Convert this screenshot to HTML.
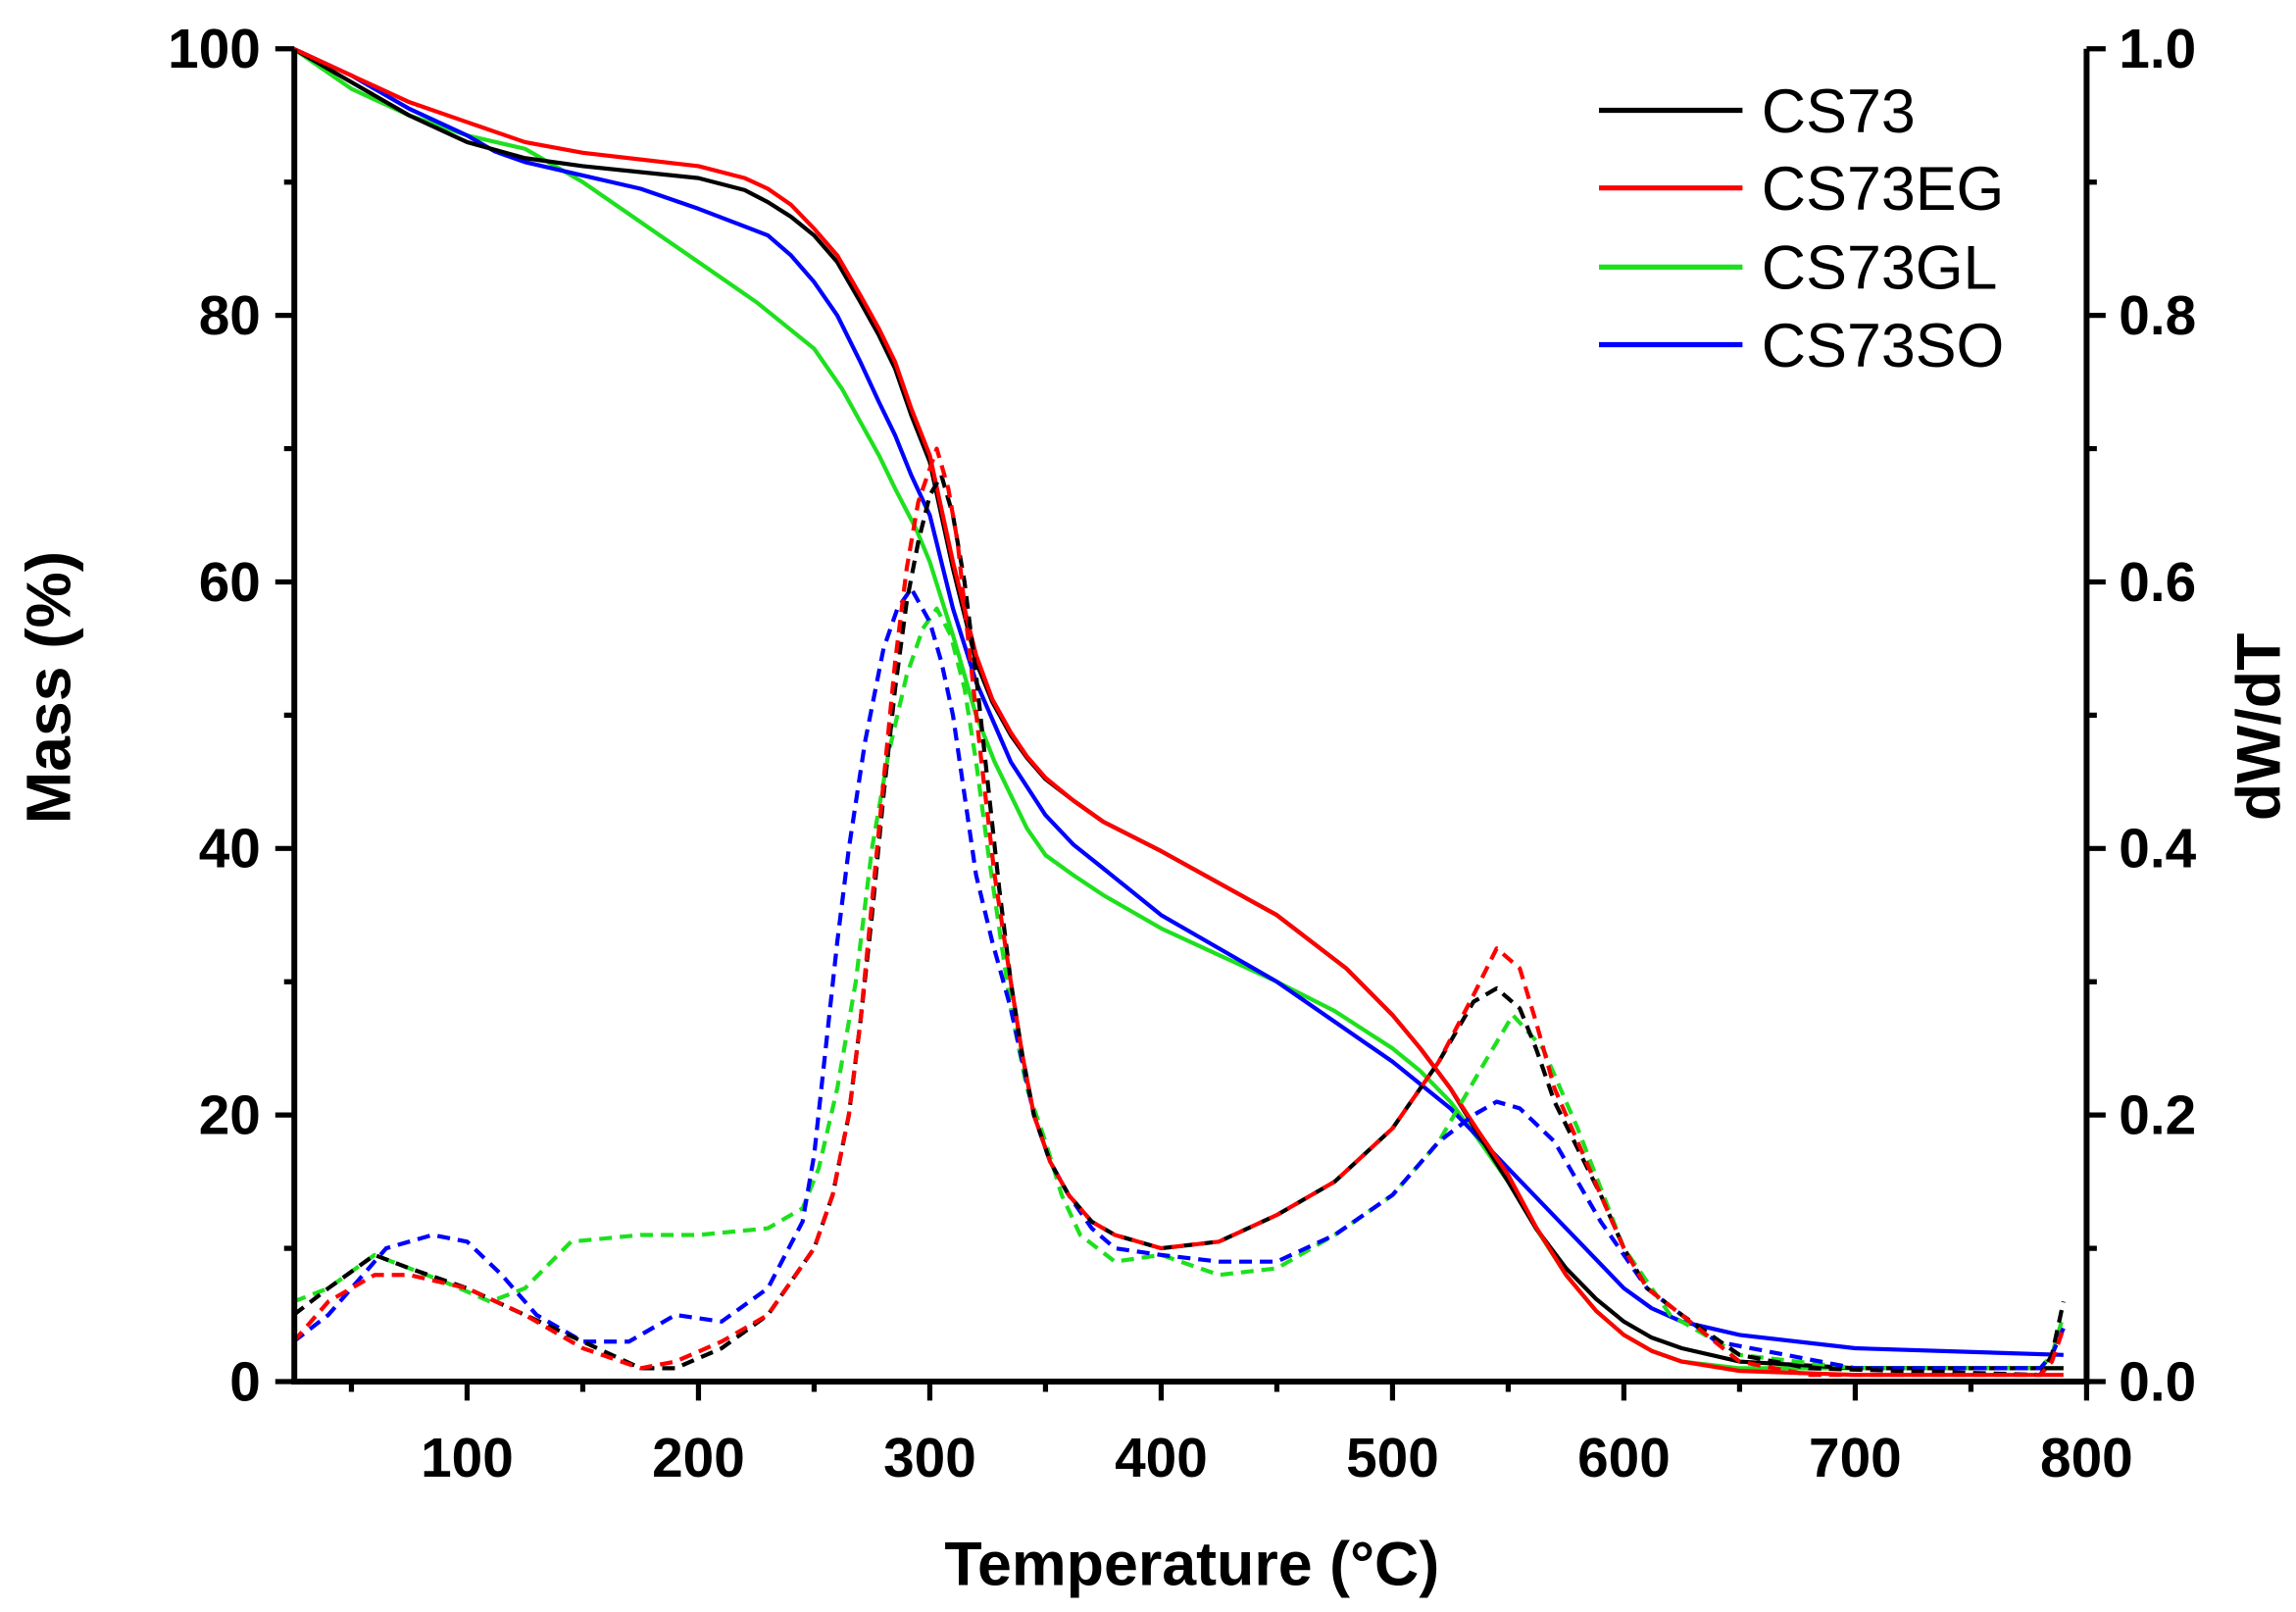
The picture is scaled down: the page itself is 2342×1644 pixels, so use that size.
<!DOCTYPE html>
<html><head><meta charset="utf-8"><style>
html,body{margin:0;padding:0;background:#fff;}
svg{display:block;}
text{font-family:"Liberation Sans",Arial,sans-serif;}
</style></head><body>
<svg width="2342" height="1644" viewBox="0 0 1568 1100" xmlns="http://www.w3.org/2000/svg">
<rect width="1568" height="1100" fill="#fff"/>
<g transform="matrix(1.58,0,0,-9.1,161,943)" fill="none" stroke-width="4.2" stroke-linejoin="round">
<polyline vector-effect="non-scaling-stroke" stroke="#1ee01e" points="25,100 50,97 75,95 100,93.5 125,92.5 150,90 175,87 200,84 225,81 250,77.5 262,74.5 270,72 278,69.5 285,67 294,64 300,61.5 310,56 320,50 328,46.5 335,44 342,41.5 350,39.5 362,38 375,36.5 400,34 425,32 450,30 475,27.8 500,25 512,23.3 525,21 537,18.2 550,15 562,11.5 575,8 588,5.3 600,3.5 612,2.3 625,1.5 650,1 790,1"/>
<polyline vector-effect="non-scaling-stroke" stroke="#00f" points="25,100 50,98 75,95.5 100,93.5 112,92.3 125,91.5 150,90.5 175,89.5 200,88 230,86 240,84.5 250,82.5 260,80 270,76.5 278,73.5 285,71 292,68 300,65 310,58 320,52.5 335,46.5 350,42.5 362,40.3 375,38.5 400,35 450,30 500,24 525,20.5 550,16 575,11.5 600,7 612,5.5 625,4.5 650,3.5 700,2.5 790,2"/>
<polyline vector-effect="non-scaling-stroke" stroke="#000" points="25,100 50,97.5 75,95 100,93 125,91.8 150,91.2 200,90.3 220,89.4 230,88.5 240,87.4 250,86 260,84 270,81 278,78.5 285,76 292,72.5 300,69 310,61 320,54 327,51 335,48.5 342,46.8 350,45.2 362,43.6 375,42 400,39.8 450,35 480,31 500,27.5 512,25 525,22 537,18.6 550,15 562,11.5 575,8.5 588,6.2 600,4.5 612,3.3 625,2.5 650,1.5 700,1 790,1"/>
<polyline vector-effect="non-scaling-stroke" stroke="#f00" points="25,100 50,98 75,96 100,94.5 125,93 150,92.2 200,91.2 220,90.3 230,89.5 240,88.3 250,86.5 260,84.5 270,81.5 278,79 285,76.5 292,73 300,69.5 310,61.5 320,54.5 327,51.2 335,48.7 342,46.9 350,45.3 362,43.6 375,42 400,39.8 450,35 480,31 500,27.5 512,25 525,22 537,18.8 550,15.5 562,11.6 575,8 588,5.3 600,3.5 612,2.3 625,1.5 650,0.8 700,0.5 790,0.5"/>
<polyline vector-effect="non-scaling-stroke" stroke="#1ee01e" stroke-dasharray="13 8" points="25,6 40,7 60,9.5 75,8.5 90,7.5 110,6 125,7 145,10.5 175,11 200,11 230,11.5 245,13 252,16 260,22 268,30 275,40 282,47 290,53 297,56.5 303,58 309,56 315,52 320,46.5 325,40 330,34 335,28 342,22 350,18 357,14 365,11 380,9 400,9.5 425,8 450,8.5 475,11 500,14 520,18 540,24 552,27.5 565,25 580,19 600,10 620,5 650,2 700,1 780,1 785,2 790,5"/>
<polyline vector-effect="non-scaling-stroke" stroke="#00f" stroke-dasharray="13 8" points="25,3 40,5 65,10 85,11 100,10.5 115,8 130,5 150,3 170,3 190,5 210,4.5 230,7 245,12 250,17 255,25 260,33 265,40 272,48 280,55 286,58 292,59.5 300,57 305,54 310,50 315,44 320,38 327,33 335,28 345,20 352,16.5 360,14 370,11.5 380,10 400,9.5 425,9 450,9 475,11 500,14 520,18 535,20 545,21 555,20.5 570,18 590,12 610,7 625,5 640,3 700,1 780,1 785,2 790,4"/>
<polyline vector-effect="non-scaling-stroke" stroke="#000" stroke-dasharray="13 8" points="25,5 40,7 60,9.5 75,8.5 100,7 125,5 150,3 175,1 190,1 210,2.5 230,5 250,10 258,14 265,20 270,27 275,35 280,44 285,52 290,58.5 295,63 300,66.5 305,68 310,65 315,60 320,53 325,45 330,37 335,30 340,24.5 345,20 352,16.5 360,14 370,12 380,11 400,10 425,10.5 450,12.5 475,15 500,19 520,24 535,28.5 545,29.5 555,28 562,25 570,21 580,17.5 590,14 600,10 610,7 625,5 650,2 680,1 780,0.5 785,2 790,6"/>
<polyline vector-effect="non-scaling-stroke" stroke="#f00" stroke-dasharray="13 8" points="25,3 40,6 60,8 75,8 100,7 125,5 150,2.5 175,1 190,1.5 210,3 230,5 250,10 258,14 265,20 270,27 275,36 280,45 285,54 290,61 295,66 303,70 308,67 312,63 317,55 322,47 328,38 335,30 340,24.5 345,20 352,16.5 360,14 370,12 380,11 400,10 425,10.5 450,12.5 475,15 500,19 520,24 535,29 545,32.5 555,31 562,27 570,22 580,18 590,14 600,10 610,7 625,5 650,1.5 680,0.5 780,0.5 785,1.5 790,4"/>
</g>
<g stroke="#000" stroke-width="4" fill="none">
<line x1="201" y1="33" x2="201" y2="945"/>
<line x1="1425" y1="33" x2="1425" y2="945"/>
<line x1="199" y1="943" x2="1427" y2="943"/>
</g>
<g stroke="#000" stroke-width="3.5">
<path d="M188,943H201M188,761H201M188,579H201M188,397H201M188,215H201M188,33H201M194,852H201M194,670H201M194,488H201M194,306H201M194,124H201"/>
<path d="M1425,943H1438M1425,761H1438M1425,579H1438M1425,397H1438M1425,215H1438M1425,33H1438M1425,852H1432M1425,670H1432M1425,488H1432M1425,306H1432M1425,124H1432"/>
<path d="M319,943V956M477,943V956M635,943V956M793,943V956M951,943V956M1109,943V956M1267,943V956M1425,943V956M240,943V950M398,943V950M556,943V950M714,943V950M872,943V950M1030,943V950M1188,943V950M1346,943V950"/>
</g>
<g font-weight="bold" font-size="38" fill="#000">
<g text-anchor="end">
<text x="178" y="956">0</text><text x="178" y="774">20</text><text x="178" y="592">40</text><text x="178" y="410">60</text><text x="178" y="228">80</text><text x="178" y="46">100</text>
</g>
<g text-anchor="start">
<text x="1447" y="956">0.0</text><text x="1447" y="774">0.2</text><text x="1447" y="592">0.4</text><text x="1447" y="410">0.6</text><text x="1447" y="228">0.8</text><text x="1447" y="46">1.0</text>
</g>
<g text-anchor="middle">
<text x="319" y="1008">100</text><text x="477" y="1008">200</text><text x="635" y="1008">300</text><text x="793" y="1008">400</text><text x="951" y="1008">500</text><text x="1109" y="1008">600</text><text x="1267" y="1008">700</text><text x="1425" y="1008">800</text>
</g>
<text x="814" y="1082" text-anchor="middle" font-size="42">Temperature (°C)</text>
<text transform="translate(48,469) rotate(-90)" text-anchor="middle" font-size="43">Mass (%)</text>
<text transform="translate(1557,496) rotate(-90)" text-anchor="middle" font-size="42">dW/dT</text>
</g>
<g stroke-width="3.5">
<line x1="1092" y1="75" x2="1190" y2="75" stroke="#000"/>
<line x1="1092" y1="128" x2="1190" y2="128" stroke="#f00"/>
<line x1="1092" y1="182" x2="1190" y2="182" stroke="#1ee01e"/>
<line x1="1092" y1="235" x2="1190" y2="235" stroke="#00f"/>
</g>
<g font-size="42" fill="#000">
<text x="1203" y="90">CS73</text><text x="1203" y="143">CS73EG</text><text x="1203" y="197">CS73GL</text><text x="1203" y="250">CS73SO</text>
</g>
</svg>
</body></html>
